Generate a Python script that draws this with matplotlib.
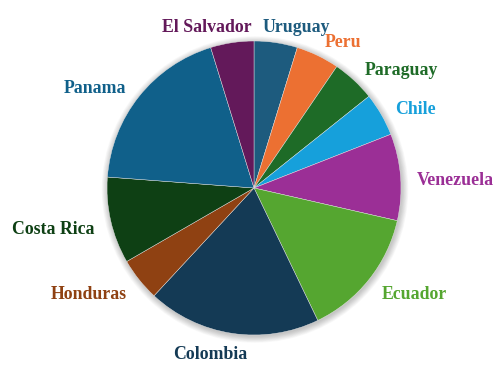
import numpy as np
import matplotlib.pyplot as plt
from matplotlib.patches import Circle

countries = ["Uruguay", "Peru", "Paraguay", "Chile", "Venezuela", "Ecuador",
             "Colombia", "Honduras", "Costa Rica", "Panama", "El Salvador"]
values = [1, 1, 1, 1, 2, 3, 4, 1, 2, 4, 1]
colors = ["#1d5b7e", "#ec7032", "#1e6b27", "#16a0db", "#9b2f96", "#55a630",
          "#143a55", "#8f4112", "#0e4014", "#10608a", "#63195a"]

# small nudges (pixels) for labels that got pushed around near top/bottom
nudge = {"Uruguay": (-16, 0), "El Salvador": (22, 0), "Colombia": (18, 0)}

fig = plt.figure(figsize=(5, 3.76), dpi=100)
ax = fig.add_axes([0, 0, 1, 1])

cx, cy, R = 254, 188, 147

# soft shadow behind the pie
for i in range(10):
    ax.add_patch(Circle((cx + 1, cy - 1.5), R + 0.7 * i, color="#000000",
                        alpha=0.025, lw=0, zorder=0))

wedges, _ = ax.pie(values, colors=colors, startangle=90, counterclock=False,
                   center=(cx, cy), radius=R,
                   wedgeprops=dict(linewidth=0.3, edgecolor="#e8e8e8"))
for w in wedges:
    w.set_zorder(2)

for w, name, col in zip(wedges, countries, colors):
    mid = np.deg2rad((w.theta1 + w.theta2) / 2)
    d = R * 1.11
    x = cx + d * np.cos(mid)
    y = cy + d * np.sin(mid) - 3 + 4 * max(np.sin(mid), 0)
    dx, dy = nudge.get(name, (0, 0))
    ha = "left" if np.cos(mid) > 0 else "right"
    ax.text(x + dx, y + dy, name, ha=ha, va="center_baseline", color=col,
            fontsize=12.8, fontweight="bold", family="Liberation Serif", zorder=3)

ax.set_xlim(0, 500)
ax.set_ylim(0, 376)
ax.set_aspect("equal")
ax.axis("off")

fig.savefig("out.png", dpi=100)
